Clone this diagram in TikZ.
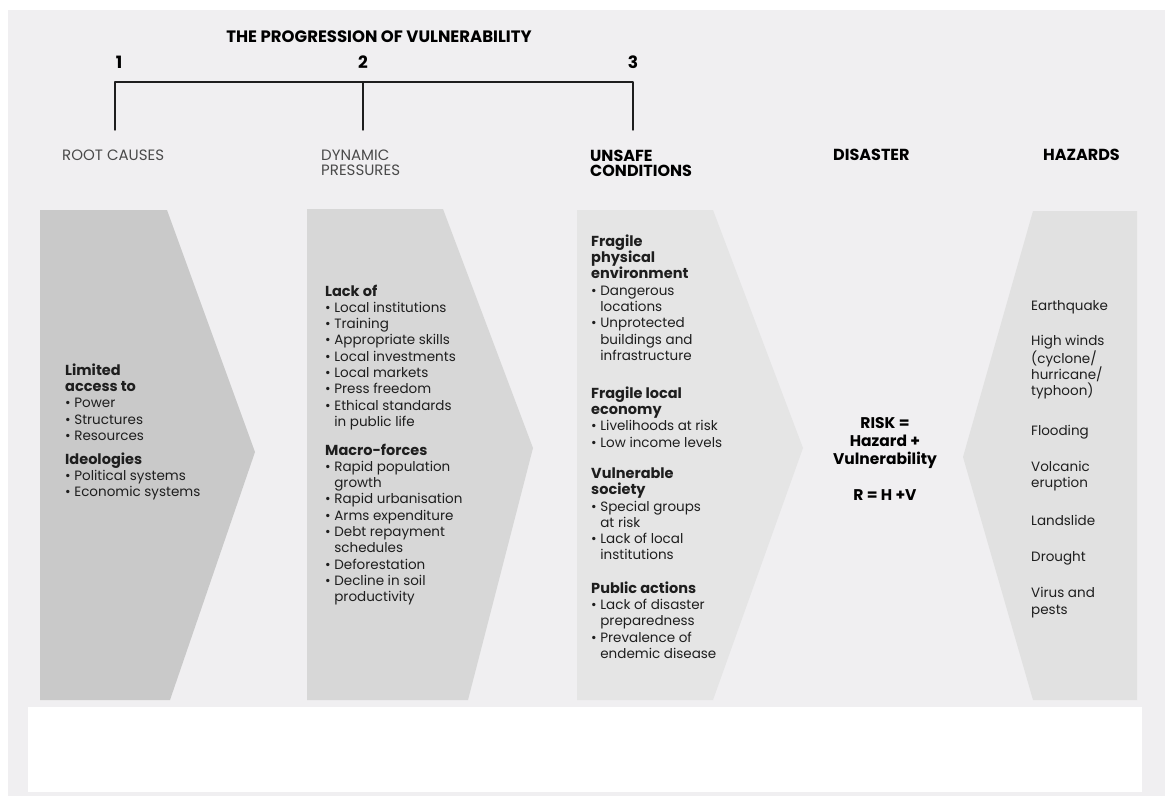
\documentclass[tikz,border=0pt]{standalone}
\usepackage{fontspec}
\setmainfont{Poppins}
\definecolor{pagegray}{HTML}{F0EFF1}
\definecolor{rootgray}{HTML}{C9C9C9}
\definecolor{dyngray}{HTML}{D7D7D7}
\definecolor{unsafegray}{HTML}{E5E5E5}
\definecolor{hazgray}{HTML}{E1E1E1}
\definecolor{lightink}{HTML}{4A4A4A}
\definecolor{inkgray}{HTML}{1E1E1E}
\newcommand{\itemdot}{\textbullet\ }
\newcommand{\itemgap}{\phantom{\textbullet\ }}
\newcommand{\grouphead}[1]{{\fontsize{14.5}{16.3}\selectfont\bfseries #1}}
\begin{document}
\begin{tikzpicture}[x=1pt, y=-1pt, line join=round, line cap=round,
    body/.style={anchor=north west, inner sep=0pt, align=left, text=inkgray,
      font=\fontsize{13.5}{16.3}\selectfont},
    hazitem/.style={body},
    headbold/.style={anchor=west, inner sep=0pt, align=left, text=black,
      font=\fontsize{16}{15.5}\selectfont\bfseries},
    headlight/.style={headbold, text=lightink, font=\fontsize{15}{15.5}\selectfont},
    stepnum/.style={inner sep=0pt, font=\fontsize{17}{17}\selectfont\bfseries},
    bracket/.style={line width=1.4pt, draw=inkgray}]
  \useasboundingbox (0,0) rectangle (1165,796);
  \fill[white] (0,0) rectangle (1165,796);
  \fill[pagegray] (8,10) rectangle (1165,796);
  \fill[white] (28,707) rectangle (1142,792);

  % title and bracket
  \node[inner sep=0pt, font=\fontsize{16.5}{17}\selectfont\bfseries] (title) at (379,37) {THE PROGRESSION OF VULNERABILITY};
  \node[stepnum] (n1) at (119,62) {1};
  \node[stepnum] (n2) at (363,62) {2};
  \node[stepnum] (n3) at (633,62) {3};
  \coordinate (b1) at (115,82);
  \coordinate (b2) at (363,82);
  \coordinate (b3) at (633,82);
  \coordinate (e1) at (115,130);
  \coordinate (e2) at (363,130);
  \coordinate (e3) at (633,130);
  \draw[bracket] (e1) -- (b1) -- (b3) -- (e3);
  \draw[bracket] (b2) -- (e2);

  % column heads
  \node[headlight] (hroot) at (62,155) {ROOT CAUSES};
  \node[headlight, anchor=north west] (hdyn) at (321,149.5) {DYNAMIC\\PRESSURES};
  \node[headbold, anchor=north west] (hunsafe) at (590,149.5) {UNSAFE\\CONDITIONS};
  \node[headbold] (hdis) at (833,155) {DISASTER};
  \node[headbold, anchor=east] (hhaz) at (1120,155) {HAZARDS};

  % arrow shapes
  \fill[rootgray] (40,210) -- (167,210) -- (255,452) -- (170,700) -- (40,700) -- cycle;
  \fill[dyngray] (307,209) -- (443,209) -- (533,448) -- (468,700) -- (307,700) -- cycle;
  \fill[unsafegray] (577,210) -- (713,210) -- (803,448) -- (713,700) -- (577,700) -- cycle;
  \fill[hazgray] (1033,211) -- (1137,211) -- (1137,700) -- (1033,700) -- (963,457) -- cycle;

  % root causes
  \node[body] (root1) at (65,363.5) {\grouphead{Limited}\\\grouphead{access to}\\
    \itemdot Power\\\itemdot Structures\\\itemdot Resources};
  \node[body] (root2) at (65,452.5) {\grouphead{Ideologies}\\
    \itemdot Political systems\\\itemdot Economic systems};

  % dynamic pressures
  \node[body] (dyn1) at (325,284.5) {\grouphead{Lack of}\\
    \itemdot Local institutions\\\itemdot Training\\\itemdot Appropriate skills\\
    \itemdot Local investments\\\itemdot Local markets\\\itemdot Press freedom\\
    \itemdot Ethical standards\\\itemgap in public life};
  \node[body] (dyn2) at (325,443.5) {\grouphead{Macro-forces}\\
    \itemdot Rapid population\\\itemgap growth\\\itemdot Rapid urbanisation\\
    \itemdot Arms expenditure\\\itemdot Debt repayment\\\itemgap schedules\\
    \itemdot Deforestation\\\itemdot Decline in soil\\\itemgap productivity};

  % unsafe conditions
  \node[body] (uns1) at (591,234.5) {\grouphead{Fragile}\\\grouphead{physical}\\\grouphead{environment}\\
    \itemdot Dangerous\\\itemgap locations\\\itemdot Unprotected\\
    \itemgap buildings and\\\itemgap infrastructure};
  \node[body] (uns2) at (591,386.5) {\grouphead{Fragile local}\\\grouphead{economy}\\
    \itemdot Livelihoods at risk\\\itemdot Low income levels};
  \node[body] (uns3) at (591,467.5) {\grouphead{Vulnerable}\\\grouphead{society}\\
    \itemdot Special groups\\\itemgap at risk\\\itemdot Lack of local\\\itemgap institutions};
  \node[body] (uns4) at (591,581.5) {\grouphead{Public actions}\\
    \itemdot Lack of disaster\\\itemgap preparedness\\\itemdot Prevalence of\\\itemgap endemic disease};

  % disaster
  \node[anchor=north, inner sep=0pt, align=center,
    font=\fontsize{15.5}{18}\selectfont\bfseries] (risk) at (885,417.5)
    {RISK =\\Hazard +\\Vulnerability\\[18pt]R = H +V};

  % hazards
  \node[hazitem] (hz1) at (1031,300.5) {Earthquake};
  \node[hazitem] (hz2) at (1031,335.5) {High winds\\(cyclone/\\hurricane/\\typhoon)};
  \node[hazitem] (hz3) at (1031,425.5) {Flooding};
  \node[hazitem] (hz4) at (1031,461) {Volcanic\\eruption};
  \node[hazitem] (hz5) at (1031,515.5) {Landslide};
  \node[hazitem] (hz6) at (1031,551.5) {Drought};
  \node[hazitem] (hz7) at (1031,587.5) {Virus and\\pests};
\end{tikzpicture}
\end{document}
